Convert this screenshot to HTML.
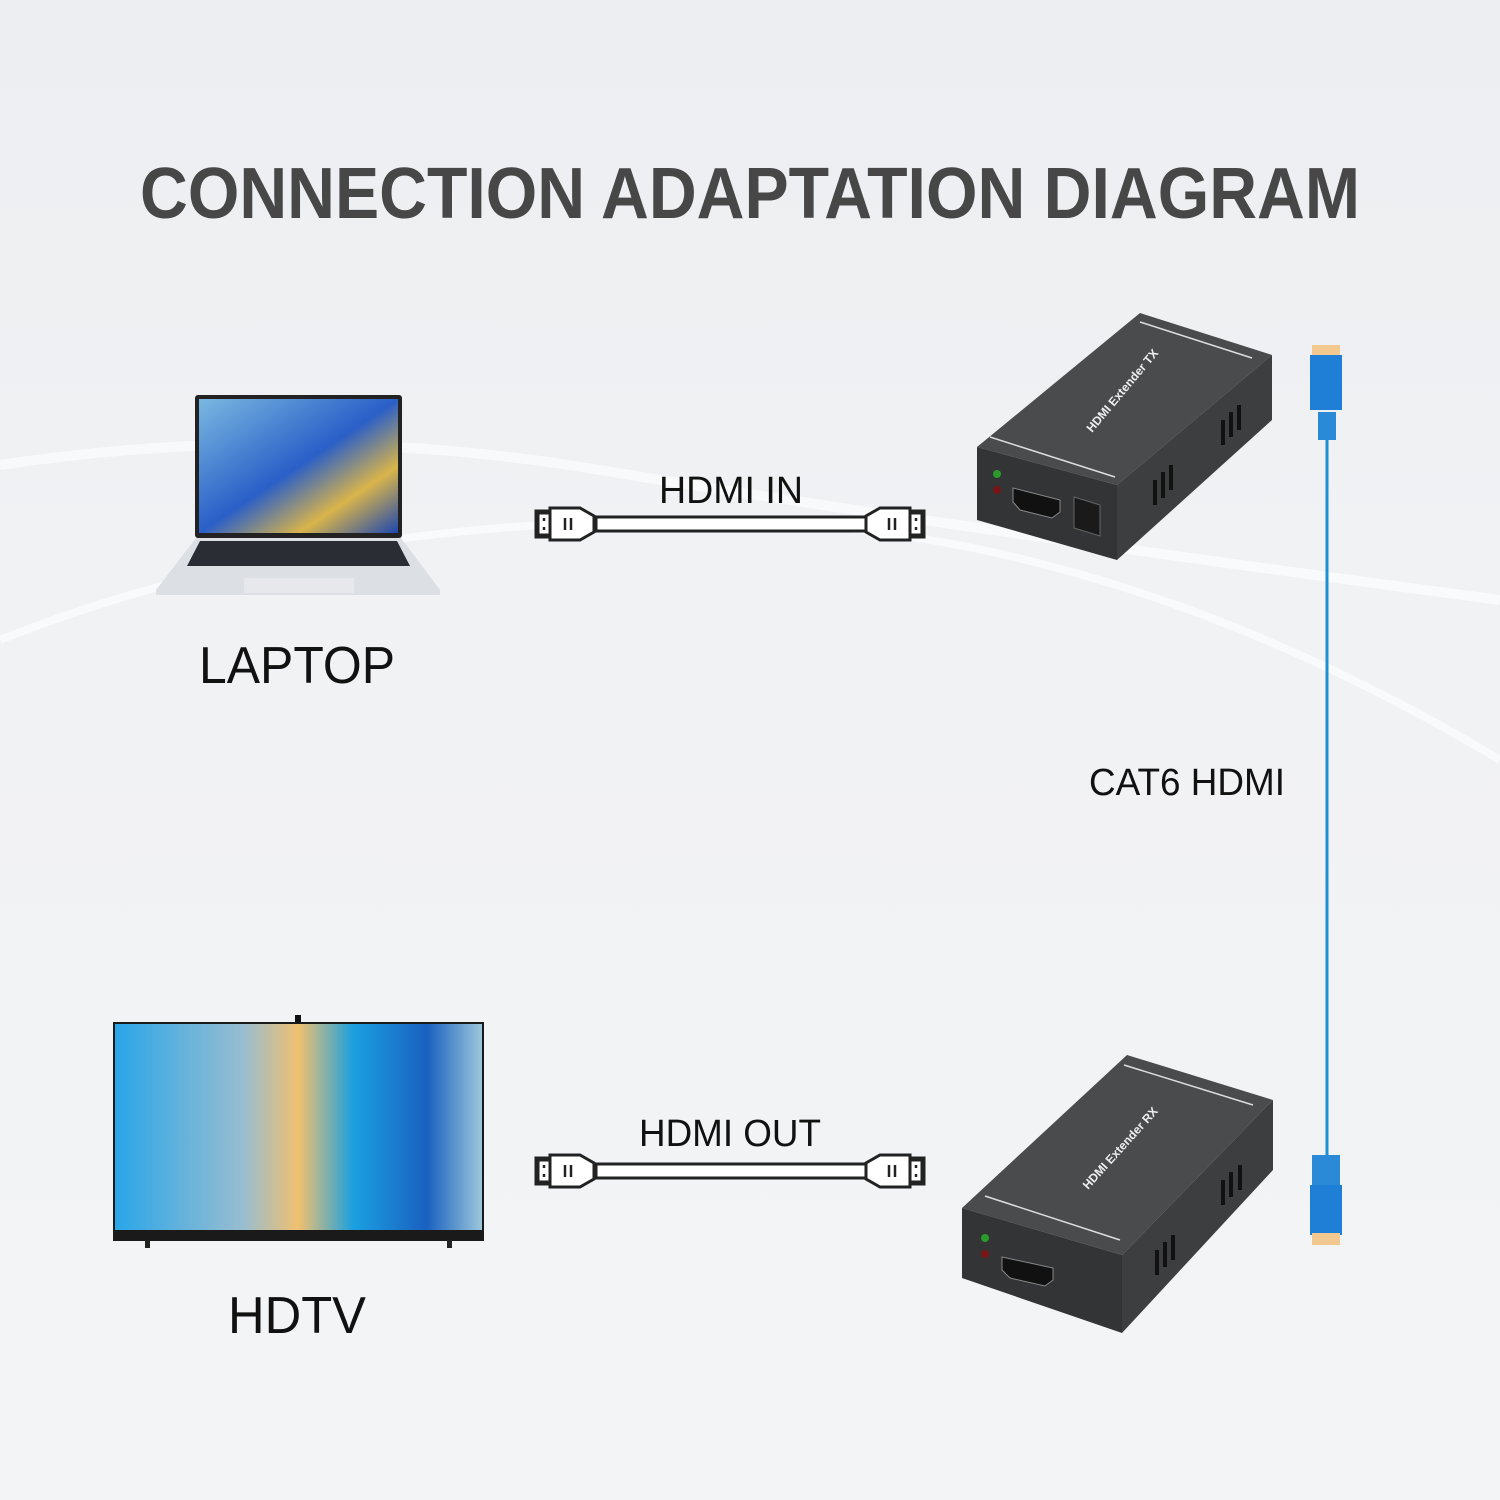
<!DOCTYPE html>
<html><head><meta charset="utf-8"><style>
html,body{margin:0;padding:0;width:1500px;height:1500px;overflow:hidden}
body{background:linear-gradient(180deg,#eceef1 0%,#f1f2f4 40%,#f3f4f6 100%)}
svg{display:block}
text{font-family:"Liberation Sans",sans-serif}
</style></head><body>
<svg width="1500" height="1500" viewBox="0 0 1500 1500" xmlns="http://www.w3.org/2000/svg">
<defs>
<linearGradient id="scr" x1="0" y1="0" x2="1" y2="1"><stop offset="0" stop-color="#7ab8e0"/><stop offset=".5" stop-color="#2a5fc8"/><stop offset=".75" stop-color="#d9b44a"/><stop offset="1" stop-color="#1d47b0"/></linearGradient>
<linearGradient id="tv" x1="0" y1="0" x2="1" y2="0"><stop offset="0" stop-color="#2aa6e8"/><stop offset=".35" stop-color="#98bdd0"/><stop offset=".5" stop-color="#f0c070"/><stop offset=".65" stop-color="#1aa0e0"/><stop offset=".85" stop-color="#1a60c0"/><stop offset="1" stop-color="#9cc6da"/></linearGradient>
<g id="hdmi" fill="#fff" stroke="#222" stroke-width="3">
<rect x="60" y="9" width="275" height="14" />
<path d="M0 3 H14 V0 H44 L58 8 V24 L44 32 H14 V29 H0 Z"/>
<rect x="2" y="5" width="12" height="22"/>
<path d="M388 3 H374 V0 H344 L330 8 V24 L344 32 H374 V29 H388 Z"/>
<rect x="374" y="5" width="12" height="22"/>
<g stroke-width="2.5"><line x1="29" y1="10" x2="29" y2="22"/><line x1="35" y1="10" x2="35" y2="22"/><line x1="353" y1="10" x2="353" y2="22"/><line x1="359" y1="10" x2="359" y2="22"/><line x1="8" y1="10" x2="8" y2="13"/><line x1="8" y1="19" x2="8" y2="22"/><line x1="380" y1="10" x2="380" y2="13"/><line x1="380" y1="19" x2="380" y2="22"/></g>
</g>
</defs>
<path d="M0 465 Q300 420 600 470 T1500 600" fill="none" stroke="#fafbfc" stroke-width="10" opacity=".8"/>
<path d="M0 640 Q300 520 700 520 T1500 760" fill="none" stroke="#fafbfc" stroke-width="8" opacity=".8"/>

<text x="140" y="218" font-size="72" font-weight="bold" fill="#474747" textLength="1220" lengthAdjust="spacingAndGlyphs">CONNECTION ADAPTATION DIAGRAM</text>

<rect x="195" y="395" width="207" height="143" rx="3" fill="#222"/>
<rect x="199" y="399" width="199" height="134" fill="url(#scr)"/>
<path d="M196 538 H401 L440 590 V595 H156 V590 Z" fill="#dcdfe4"/>
<path d="M200 541 H397 L410 566 H187 Z" fill="#2a2d33"/>
<rect x="244" y="578" width="110" height="15" fill="#e6e8ec"/>
<text x="297" y="683" text-anchor="middle" font-size="52" fill="#111" textLength="196" lengthAdjust="spacingAndGlyphs">LAPTOP</text>

<rect x="295" y="1015" width="6" height="10" fill="#111"/>
<rect x="113" y="1022" width="371" height="219" fill="#1a1a1a"/>
<rect x="115" y="1024" width="367" height="206" fill="url(#tv)"/>
<rect x="145" y="1240" width="5" height="8" fill="#222"/><rect x="447" y="1240" width="5" height="8" fill="#222"/>
<text x="297" y="1333" text-anchor="middle" font-size="52" fill="#111" textLength="138" lengthAdjust="spacingAndGlyphs">HDTV</text>

<text x="731" y="503" text-anchor="middle" font-size="38" fill="#111" textLength="144" lengthAdjust="spacingAndGlyphs">HDMI IN</text>
<use href="#hdmi" x="536" y="508"/>
<text x="730" y="1146" text-anchor="middle" font-size="38" fill="#111" textLength="182" lengthAdjust="spacingAndGlyphs">HDMI OUT</text>
<use href="#hdmi" x="536" y="1155"/>

<line x1="1327" y1="420" x2="1327" y2="1170" stroke="#1e8fd6" stroke-width="3"/>
<rect x="1312" y="345" width="28" height="12" fill="#f0c890"/>
<rect x="1310" y="355" width="32" height="55" fill="#1f7fd6"/>
<rect x="1318" y="412" width="18" height="28" fill="#2a8ad8"/>
<rect x="1312" y="1155" width="28" height="30" fill="#2a8ad8"/>
<rect x="1310" y="1185" width="32" height="50" fill="#1f7fd6"/>
<rect x="1312" y="1233" width="28" height="12" fill="#f0c890"/>
<text x="1187" y="795" text-anchor="middle" font-size="38" fill="#111" textLength="196" lengthAdjust="spacingAndGlyphs">CAT6 HDMI</text>

<polygon points="977,447 1140,313 1272,355 1117,485" fill="#4a4b4d"/>
<polygon points="977,447 1117,485 1117,560 977,520" fill="#333436"/>
<polygon points="1117,485 1272,355 1272,420 1117,560" fill="#3d3e40"/>
<line x1="1140" y1="322" x2="1252" y2="358" stroke="#ddd" stroke-width="1.5"/>
<line x1="990" y1="437" x2="1115" y2="477" stroke="#ddd" stroke-width="1.5"/>
<text x="0" y="0" font-size="12" font-weight="bold" fill="#eee" transform="translate(1092,433) rotate(-50)">HDMI Extender TX</text>
<circle cx="997" cy="474" r="4" fill="#2a9a2a"/><circle cx="997" cy="490" r="4" fill="#7a1515"/>
<path d="M1013 488 L1060 500 L1060 512 L1052 518 L1020 510 L1013 502 Z" fill="#111" stroke="#888"/>
<polygon points="1074,497 1100,505 1100,536 1074,528" fill="#1a1a1a" stroke="#666"/>
<g stroke="#111" stroke-width="4"><line x1="1155" y1="480" x2="1155" y2="505"/><line x1="1163" y1="472" x2="1163" y2="498"/><line x1="1171" y1="465" x2="1171" y2="490"/><line x1="1223" y1="420" x2="1223" y2="445"/><line x1="1231" y1="412" x2="1231" y2="437"/><line x1="1239" y1="405" x2="1239" y2="430"/></g>

<polygon points="962,1208 1127,1055 1273,1100 1122,1255" fill="#4a4b4d"/>
<polygon points="962,1208 1122,1255 1122,1333 962,1278" fill="#333436"/>
<polygon points="1122,1255 1273,1100 1273,1170 1122,1333" fill="#3d3e40"/>
<line x1="1124" y1="1065" x2="1253" y2="1105" stroke="#ddd" stroke-width="1.5"/>
<line x1="985" y1="1196" x2="1120" y2="1240" stroke="#ddd" stroke-width="1.5"/>
<text x="0" y="0" font-size="12" font-weight="bold" fill="#eee" transform="translate(1088,1190) rotate(-48)">HDMI Extender RX</text>
<circle cx="985" cy="1238" r="4" fill="#2a9a2a"/><circle cx="985" cy="1254" r="4" fill="#7a1515"/>
<path d="M1002 1257 L1053 1268 L1053 1280 L1045 1286 L1010 1278 L1002 1270 Z" fill="#111" stroke="#888"/>
<g stroke="#111" stroke-width="4"><line x1="1157" y1="1250" x2="1157" y2="1275"/><line x1="1165" y1="1242" x2="1165" y2="1267"/><line x1="1173" y1="1235" x2="1173" y2="1260"/><line x1="1223" y1="1180" x2="1223" y2="1205"/><line x1="1231" y1="1172" x2="1231" y2="1197"/><line x1="1240" y1="1165" x2="1240" y2="1190"/></g>
</svg>
</body></html>
